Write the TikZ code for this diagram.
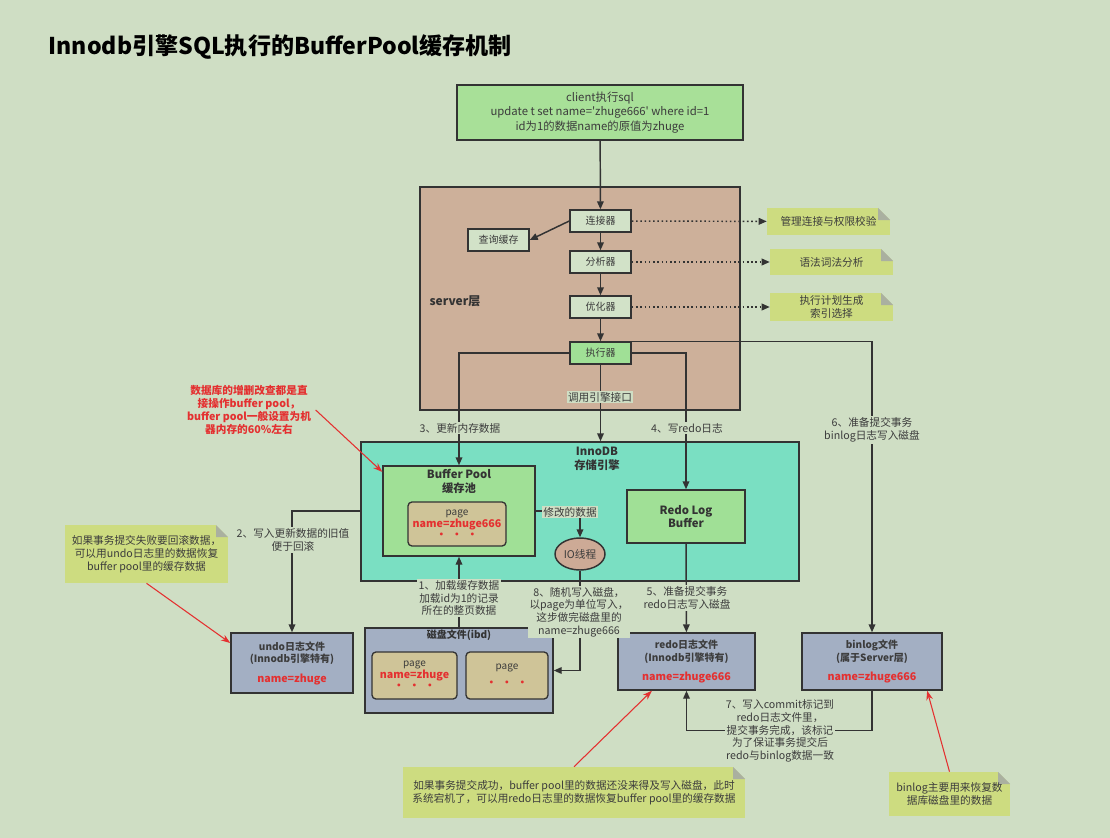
\documentclass[tikz,border=0pt]{standalone}
\usepackage{fontspec}
\setmainfont{Noto Sans CJK SC}
\usepackage{tikz}
\usetikzlibrary{calc,arrows.meta,shapes.geometric}
\definecolor{bgc}{RGB}{207,222,196}
\definecolor{topc}{RGB}{168,224,152}
\definecolor{serverc}{RGB}{205,176,154}
\definecolor{compc}{RGB}{210,226,200}
\definecolor{execc}{RGB}{160,224,150}
\definecolor{notec}{RGB}{205,220,128}
\definecolor{foldc}{RGB}{170,176,160}
\definecolor{innoc}{RGB}{122,223,194}
\definecolor{bpc}{RGB}{160,224,150}
\definecolor{pagec}{RGB}{207,196,152}
\definecolor{ioc}{RGB}{205,170,150}
\definecolor{filec}{RGB}{163,175,195}
\definecolor{redc}{RGB}{228,48,48}
\definecolor{linec}{RGB}{51,51,51}
\definecolor{txtc}{RGB}{60,60,60}
\tikzset{
  box/.style={rectangle,draw=linec,line width=1.1pt,inner sep=1pt,align=center,text=txtc},
  comp/.style={box,fill=compc,minimum width=45.75pt,minimum height=16.5pt,font=\fontsize{7.5}{9}\selectfont},
  lbl/.style={fill=bgc,inner sep=1pt,align=center,text=txtc,font=\fontsize{8}{9.6}\selectfont},
  note/.style={fill=notec,inner sep=1pt,align=center,text=txtc,font=\fontsize{8}{9.75}\selectfont,
    path picture={
      \fill[bgc] ([xshift=-9pt]path picture bounding box.north east) -- (path picture bounding box.north east)
        -- ([yshift=-9pt]path picture bounding box.north east) -- cycle;
      \fill[foldc] ([xshift=-9pt]path picture bounding box.north east) -- ([xshift=-9pt,yshift=-9pt]path picture bounding box.north east)
        -- ([yshift=-9pt]path picture bounding box.north east) -- cycle;}},
  filebox/.style={box,fill=filec,font=\bfseries\fontsize{7.5}{9.5}\selectfont},
  pagebox/.style={box,rounded corners=3pt,fill=pagec,line width=1pt,font=\fontsize{7.5}{10}\selectfont},
  head/.style={text=linec,align=center,font=\bfseries\fontsize{8.5}{10.5}\selectfont},
  arr/.style={-{Triangle[length=6pt,width=5pt]},line width=1.1pt,linec},
  dotarr/.style={arr,dash pattern=on 1.2pt off 2pt},
  redarr/.style={-{Stealth[length=7pt,width=5pt]},line width=0.8pt,redc},
  redtxt/.style={text=redc,align=center,font=\bfseries\fontsize{8}{9.6}\selectfont},
}
\newcommand{\nm}[1]{{\color{redc}\bfseries\fontsize{8}{10}\selectfont #1}}
\begin{document}
\begin{tikzpicture}[x=0.75pt,y=-0.75pt]
  \fill[bgc] (0,0) rectangle (1110,838);
  \useasboundingbox (0,0) rectangle (1110,838);
  \node[anchor=west,font=\bfseries\fontsize{17.3}{20}\selectfont] (title) at (44,47){Innodb引擎SQL执行的BufferPool缓存机制};
  % client and server layer
  \node[box,fill=topc,minimum width=214.5pt,minimum height=41.25pt,font=\fontsize{8.5}{10.9}\selectfont] (client) at (600,112.5)
    {client执行sql\\update t set name=\textquotesingle zhuge666\textquotesingle{} where id=1\\id为1的数据name的原值为zhuge};
  \node[box,fill=serverc,minimum width=240pt,minimum height=167.25pt] (server) at (580,298.5){};
  \node[head,font=\bfseries\fontsize{9}{11}\selectfont] (serverlbl) at (455,301){server层};
  \node[comp] (conn) at (600.5,221){连接器};
  \node[comp] (cache) at (498.5,240){查询缓存};
  \node[comp] (parse) at (600.5,262){分析器};
  \node[comp] (optim) at (600.5,307){优化器};
  \node[comp,fill=execc] (exec) at (600.5,353){执行器};
  \node[note,minimum width=92.25pt,minimum height=20.25pt] (n1) at (828.5,221.5){管理连接与权限校验};
  \node[note,minimum width=92.25pt,minimum height=19.5pt] (n2) at (831.5,262){语法词法分析};
  \node[note,minimum width=92.25pt,minimum height=21pt] (n3) at (831.5,307){执行计划生成\\索引选择};
  % InnoDB engine
  \node[box,fill=innoc,minimum width=328.5pt,minimum height=104.25pt] (innodb) at (580,511.5){};
  \node[head] (innolbl) at (597,459){InnoDB\\存储引擎};
  \node[box,fill=bpc,minimum width=114pt,minimum height=67.5pt] (bp) at (459,511){};
  \node[head] (bplbl) at (459,481){Buffer Pool\\缓存池};
  \node[pagebox,minimum width=73.5pt,minimum height=33pt] (bppage) at (457,524){page\\[-1pt]\nm{name=zhuge666}\\[-2pt]\nm{·\ \ ·\ \ ·}};
  \node[ellipse,draw=linec,line width=1.1pt,fill=ioc,minimum width=37.5pt,minimum height=24pt,inner sep=0pt,text=txtc,font=\fontsize{8}{9.6}\selectfont] (io) at (580,554){IO线程};
  \node[box,fill=bpc,minimum width=88.5pt,minimum height=39.75pt,font=\bfseries\fontsize{8.5}{9.8}\selectfont,text=linec] (rlb) at (686,516.5){Redo Log\\Buffer};
  % files on disk
  \node[filebox,minimum width=91.5pt,minimum height=45pt] (undo) at (292,663){undo日志文件\\(Innodb引擎特有)\\[5pt]\nm{name=zhuge}};
  \node[filebox,minimum width=141pt,minimum height=63.75pt] (disk) at (459,670.5){};
  \node[head,font=\bfseries\fontsize{7.5}{9}\selectfont] (disklbl) at (459,635){磁盘文件(ibd)};
  \node[pagebox,minimum width=63.75pt,minimum height=35.25pt] (dp1) at (414.5,675.5){page\\[-1pt]\nm{name=zhuge}\\[-2pt]\nm{·\ \ ·\ \ ·}};
  \node[pagebox,minimum width=61.5pt,minimum height=35.25pt] (dp2) at (507,675.5){page\\[3pt]\nm{·\ \ ·\ \ ·}};
  \node[filebox,minimum width=102.75pt,minimum height=42.75pt] (redo) at (686.5,661.5){redo日志文件\\(Innodb引擎特有)\\[5pt]\nm{name=zhuge666}};
  \node[filebox,minimum width=105pt,minimum height=42.75pt] (binlog) at (872,661.5){binlog文件\\(属于Server层)\\[5pt]\nm{name=zhuge666}};
  % connectors
  \draw[arr](client)--(conn); \draw[arr](conn.west)--(cache.east);
  \draw[arr](conn)--(parse); \draw[arr](parse)--(optim); \draw[arr](optim)--(exec);
  \draw[dotarr](conn)--(n1); \draw[dotarr](parse)--(n2); \draw[dotarr](optim)--(n3);
  \draw[arr](exec.south)--(exec.south|-innodb.north);
  \draw[arr](exec.west)-|(bp.north); \draw[arr](exec.east)-|(rlb.north);
  \draw[arr](exec.north east)-|(binlog.north);
  \draw[arr](bp.east)-|(io.north); \draw[arr](io.south)|-(disk.east);
  \draw[arr](disk.north)--(bp.south);
  \draw[arr](innodb.west|-bp.east)-|(undo.north);
  \draw[arr](rlb)--(redo);
  \draw[arr](binlog.south)--++(0,40)-|(redo.south);
  % connector labels
  \node[lbl] (l0) at (600,397){调用引擎接口};
  \node[lbl] (l3) at (460,428){3、更新内存数据};
  \node[lbl] (l4) at (687,428){4、写redo日志};
  \node[lbl] (l6) at (872,430){6、准备提交事务\\binlog日志写入磁盘};
  \node[lbl] (lmod) at (570,512){修改的数据};
  \node[lbl] (l1) at (459,598){1、加载缓存数据\\加载id为1的记录\\所在的整页数据};
  \node[lbl] (l2) at (293,540){2、写入更新数据的旧值\\便于回滚};
  \node[lbl] (l8) at (579,612){8、随机写入磁盘，\\以page为单位写入，\\这步做完磁盘里的\\name=zhuge666};
  \node[lbl] (l5) at (687,598){5、准备提交事务\\redo日志写入磁盘};
  \node[lbl] (l7) at (780,731){7、写入commit标记到\\redo日志文件里，\\提交事务完成，该标记\\为了保证事务提交后\\redo与binlog数据一致};
  % remarks
  \node[redtxt] (bpnote) at (249,410){数据库的增删改查都是直\\接操作buffer pool，\\buffer pool一般设置为机\\器内存的60\%左右};
  \node[note,minimum width=122.25pt,minimum height=43.5pt] (nundo) at (146.5,554){如果事务提交失败要回滚数据，\\可以用undo日志里的数据恢复\\buffer pool里的缓存数据};
  \node[note,minimum width=256.5pt,minimum height=38.25pt] (nredo) at (574,792.5){如果事务提交成功，buffer pool里的数据还没来得及写入磁盘，此时\\系统宕机了，可以用redo日志里的数据恢复buffer pool里的缓存数据};
  \node[note,minimum width=90.75pt,minimum height=33pt] (nbin) at (949.5,794){binlog主要用来恢复数\\据库磁盘里的数据};
  \draw[redarr](bpnote.east)--([yshift=-5pt]bp.north west);
  \draw[redarr](nundo.south)--([yshift=15pt]undo.west);
  \draw[redarr](nredo.north)--($(redo.south west)!0.25!(redo.south east)$);
  \draw[redarr](nbin.north)--($(binlog.south west)!0.89!(binlog.south east)$);
\end{tikzpicture}
\end{document}
